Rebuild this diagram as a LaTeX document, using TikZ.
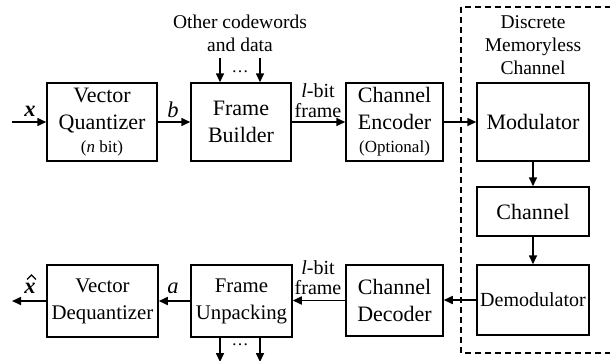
\documentclass[tikz,border=0pt]{standalone}
\usepackage{fontspec}
\setmainfont{Liberation Serif}
\usetikzlibrary{arrows.meta}
\begin{document}
\begin{tikzpicture}[x=1pt,y=-1pt,
  blk/.style={draw, line width=1.5pt, inner sep=0pt, align=center,
    font=\fontsize{22}{27}\selectfont},
  tight/.style={font=\fontsize{20.8}{27}\selectfont},
  flow/.style={-{Triangle[length=9pt,width=8pt]}, line width=1.6pt},
  lbl/.style={font=\fontsize{20}{19.5}\selectfont, align=center, inner sep=0pt},
  sym/.style={font=\fontsize{22.5}{22.5}\selectfont, inner sep=0pt},
  note/.style={font=\fontsize{19.5}{23}\selectfont, align=center, inner sep=0pt},
  sub/.style={font=\fontsize{17}{17}\selectfont},
  region/.style={draw, line width=1.4pt, dash pattern=on 6pt off 4pt},
  ]
\useasboundingbox (0,0) rectangle (610,360);
\clip (0,0) rectangle (610,360);

% discrete memoryless channel region
\draw[region] (461,7) rectangle (625,353);
\node[note] (dmc) at (533,45) {Discrete\\Memoryless\\Channel};

% transmitter chain
\node[blk, minimum width=110, minimum height=78] (vq) at (102,122)
  {Vector\\Quantizer\\[-4pt]{\fontsize{17}{17}\selectfont(\textit{n} bit)}};
\node[blk, minimum width=100, minimum height=78] (fb) at (241,122) {Frame\\Builder};
\node[blk, minimum width=97, minimum height=78] (ce) at (394.5,122)
  {Channel\\Encoder\\[-4pt]{\fontsize{17}{17}\selectfont(Optional)}};
\node[blk, minimum width=112, minimum height=78] (mod) at (533,122) {Modulator};

% channel
\node[blk, minimum width=112, minimum height=49] (ch) at (533,211.5) {Channel};

% receiver chain
\node[blk, minimum width=112, minimum height=70, font=\fontsize{20}{24}\selectfont] (dem) at (533,300) {Demodulator};
\node[blk, minimum width=97, minimum height=71] (cd) at (394.5,300.5) {Channel\\Decoder};
\node[blk, tight, minimum width=101, minimum height=72] (fu) at (241.5,301) {Frame\\Unpacking};
\node[blk, tight, minimum width=111, minimum height=72] (vd) at (102.5,301) {Vector\\Dequantizer};

% free ends
\coordinate (xin) at (12,122);
\coordinate (xout) at (12,301);
\coordinate (in1) at (220,58);
\coordinate (in2) at (260,58);
\coordinate (out1) at (220,362);
\coordinate (out2) at (260,362);

% connectors
\draw[flow] (xin) -- (vq);
\draw[flow] (vq) -- (fb);
\draw[flow] (fb) -- (ce);
\draw[flow] (ce) -- (mod);
\draw[flow] (mod) -- (ch);
\draw[flow] (ch) -- (dem);
\draw[flow] (dem.west) -- (cd.east |- dem.west);
\draw[flow] (cd.west) -- (fu.east |- cd.west);
\draw[flow] (fu) -- (vd);
\draw[flow] (vd) -- (xout);
\draw[flow] (in1) -- (in1 |- fb.north);
\draw[flow] (in2) -- (in2 |- fb.north);
\draw[flow] (out1 |- fu.south) -- (out1);
\draw[flow] (out2 |- fu.south) -- (out2);

% labels
\node[note] (other) at (240,33.5) {Other codewords\\and data};
\node[sub] (dots1) at (240,72) {\ldots};
\node[sub] (dots2) at (240,345) {\ldots};
\node[sym] (xl) at (30,111) {\textbf{\textit{x}}};
\node[sym] (bl) at (173,110) {\textit{b}};
\node[lbl] (lf1) at (318,100.5) {\textit{l}-bit\\frame};
\node[sym, anchor=base] (xh) at (30,293) {\textbf{\textit{x}}};
% circumflex over the estimate
\draw[line width=1.1pt, line join=miter]
  ([xshift=-3pt,yshift=3pt]xh.north) -- ([xshift=1.5pt,yshift=7.5pt]xh.north)
  -- ([xshift=6pt,yshift=3pt]xh.north);
\node[sym] (al) at (173,288) {\textit{a}};
\node[lbl] (lf2) at (318,277.5) {\textit{l}-bit\\frame};
\end{tikzpicture}
\end{document}
